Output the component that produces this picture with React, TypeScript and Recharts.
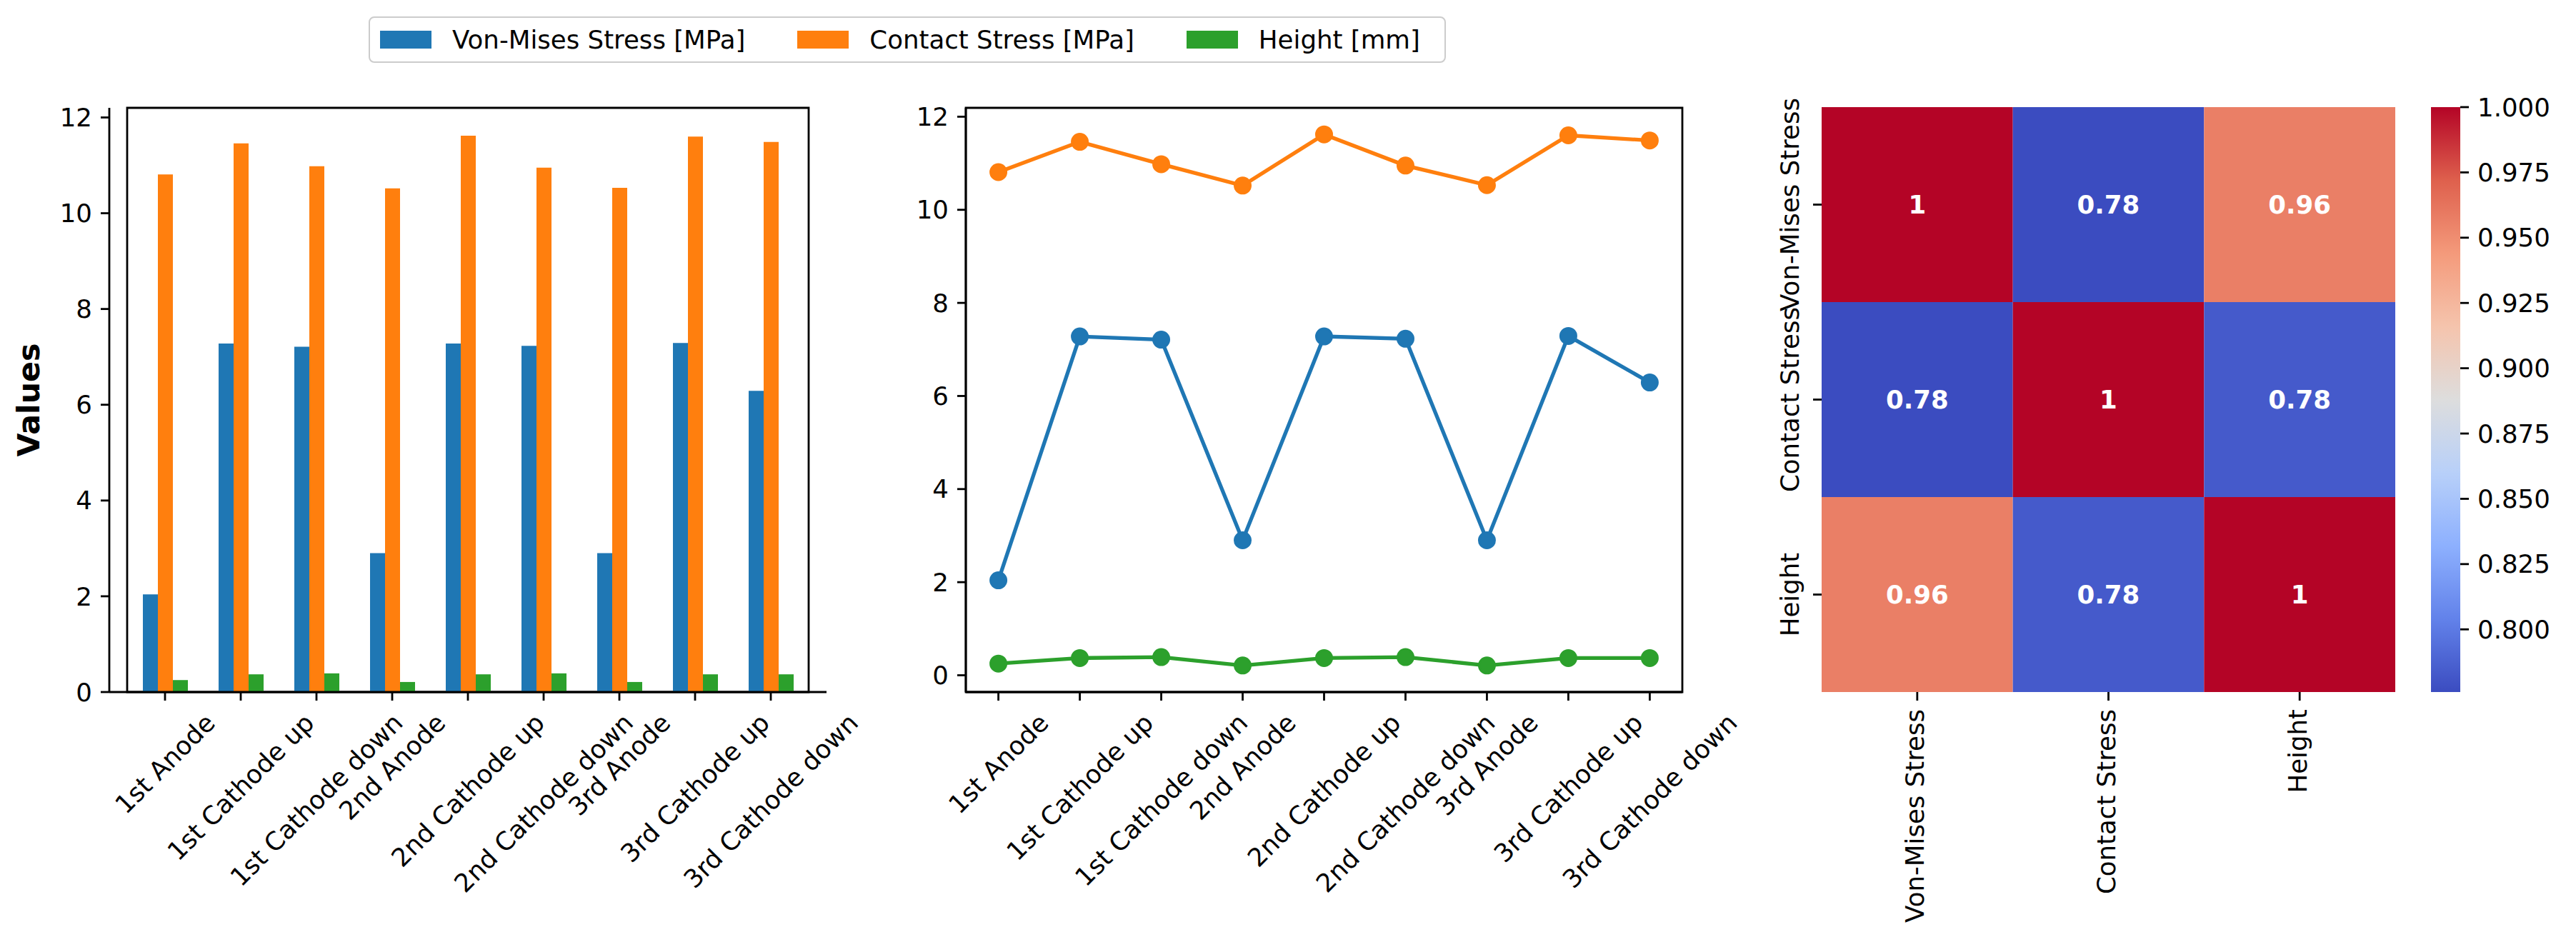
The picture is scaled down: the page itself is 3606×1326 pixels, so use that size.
import React from 'react';
import {
  BarChart,
  Bar,
  LineChart,
  Line,
  ScatterChart,
  Scatter,
  XAxis,
  YAxis,
  ReferenceArea,
} from 'recharts';

// data
const categories = [
  '1st Anode',
  '1st Cathode up',
  '1st Cathode down',
  '2nd Anode',
  '2nd Cathode up',
  '2nd Cathode down',
  '3rd Anode',
  '3rd Cathode up',
  '3rd Cathode down',
];
const vonMises = [2.04, 7.28, 7.21, 2.9, 7.28, 7.23, 2.9, 7.29, 6.29];
const contactStress = [10.81, 11.46, 10.98, 10.52, 11.62, 10.95, 10.53, 11.6, 11.49];
const heightMm = [0.25, 0.37, 0.39, 0.21, 0.37, 0.39, 0.21, 0.37, 0.37];

const seriesNames = ['Von-Mises Stress [MPa]', 'Contact Stress [MPa]', 'Height [mm]'];
const seriesColors = ['#1f77b4', '#ff7f0e', '#2ca02c'];

const corrLabels = ['Von-Mises Stress', 'Contact Stress', 'Height'];
const corrMatrix = [
  [1, 0.776, 0.957],
  [0.776, 1, 0.783],
  [0.957, 0.783, 1],
];

const valueTicks = [0, 2, 4, 6, 8, 10, 12];
const colorbarTicks = [0.8, 0.825, 0.85, 0.875, 0.9, 0.925, 0.95, 0.975, 1.0];

// matplotlib "coolwarm" colormap samples, low -> high
const coolwarm = [
  [59, 76, 192],
  [98, 130, 234],
  [141, 176, 254],
  [184, 208, 249],
  [221, 221, 221],
  [245, 196, 173],
  [244, 154, 123],
  [222, 96, 77],
  [180, 4, 38],
];

const FS = 35.6;
const FONT = 'DejaVu Sans';
const TICK = { fontSize: FS, fill: '#000', fontFamily: FONT };
const LINE = { stroke: '#000', strokeWidth: 2.8 };

const tableData = categories.map((name, i) => ({
  name,
  idx: i,
  von: vonMises[i],
  contact: contactStress[i],
  height: heightMm[i],
}));

const allValues = [...vonMises, ...contactStress, ...heightMm];
const dataMin = Math.min(...allValues);
const dataMax = Math.max(...allValues);
const barDomain = [0, dataMax * 1.05];
const lineDomain = [
  dataMin - (dataMax - dataMin) * 0.05,
  dataMax + (dataMax - dataMin) * 0.05,
];

const heatData = corrMatrix.flatMap((row, i) =>
  row.map((v, j) => ({ x: j + 0.5, y: i + 0.5, v }))
);
const vmin = Math.min(...corrMatrix.flat());
const vmax = Math.max(...corrMatrix.flat());

const HEAT_W = 803;
const HEAT_H = 819;

function coolwarmAt(t: number) {
  const s = Math.max(0, Math.min(1, t)) * (coolwarm.length - 1);
  const i = Math.min(Math.floor(s), coolwarm.length - 2);
  const f = s - i;
  const c = coolwarm[i].map((a, k) => Math.round(a + (coolwarm[i + 1][k] - a) * f));
  return `rgb(${c[0]},${c[1]},${c[2]})`;
}

function fmt2g(v: number) {
  return String(Number(v.toPrecision(2)));
}

let ctx: CanvasRenderingContext2D | null = null;
function textWidth(s: string) {
  if (!ctx) ctx = document.createElement('canvas').getContext('2d');
  if (!ctx) return s.length * FS * 0.6;
  ctx.font = `${FS}px "${FONT}"`;
  return ctx.measureText(s).width;
}

// rotated 45°, centred on the tick like matplotlib's rotation=45
function SlantTick(props: any) {
  const { x, y, payload, labels } = props;
  const label = labels ? labels[payload.value] : payload.value;
  const half = ((textWidth(label) + FS) * Math.SQRT1_2) / 2;
  const cy = y + half;
  return (
    <text
      x={x}
      y={cy}
      transform={`rotate(-45 ${x} ${cy})`}
      textAnchor="middle"
      dominantBaseline="central"
      fontSize={FS}
      fontFamily={FONT}
      fill="#000"
    >
      {label}
    </text>
  );
}

function HeatYTick(props: any) {
  const { x, y, payload } = props;
  const label = corrLabels[Math.floor(payload.value)];
  return (
    <text
      transform={`translate(${x - FS * 0.236} ${y}) rotate(-90)`}
      textAnchor="middle"
      fontSize={FS}
      fontFamily={FONT}
      fill="#000"
    >
      {label}
    </text>
  );
}

function HeatXTick(props: any) {
  const { x, y, payload } = props;
  const label = corrLabels[Math.floor(payload.value)];
  return (
    <text
      transform={`translate(${x + FS * 0.264} ${y}) rotate(-90)`}
      textAnchor="end"
      fontSize={FS}
      fontFamily={FONT}
      fill="#000"
    >
      {label}
    </text>
  );
}

function HeatCell(props: any) {
  const { cx, cy, payload } = props;
  const w = HEAT_W / 3;
  const h = HEAT_H / 3;
  return (
    <g>
      <rect
        x={cx - w / 2}
        y={cy - h / 2}
        width={w}
        height={h}
        fill={coolwarmAt((payload.v - vmin) / (vmax - vmin))}
      />
      <text
        x={cx}
        y={cy}
        textAnchor="middle"
        dominantBaseline="central"
        fontSize={FS}
        fontFamily={FONT}
        fontWeight="bold"
        fill="#fff"
      >
        {fmt2g(payload.v)}
      </text>
    </g>
  );
}

function valuesLabel(props: any) {
  const vb = props.viewBox || {};
  const cy = vb.y + vb.height / 2;
  return (
    <text
      x={40}
      y={cy}
      transform={`rotate(-90 40 ${cy})`}
      textAnchor="middle"
      dominantBaseline="central"
      fontSize={42.7}
      fontWeight="bold"
      fontFamily={FONT}
      fill="#000"
    >
      Values
    </text>
  );
}

function Legend() {
  return (
    <div
      style={{
        position: 'absolute',
        left: 516,
        top: 23,
        height: 61,
        padding: '0 34px 0 14px',
        border: '2.8px solid #cccccc',
        borderRadius: 8,
        background: '#fff',
        display: 'flex',
        alignItems: 'center',
        fontFamily: FONT,
        fontSize: FS,
        whiteSpace: 'nowrap',
      }}
    >
      {seriesNames.map((name, i) => (
        <div
          key={name}
          style={{ display: 'flex', alignItems: 'center', marginLeft: i ? 73 : 0 }}
        >
          <div style={{ width: 72, height: 25, background: seriesColors[i], marginRight: 29 }} />
          <span>{name}</span>
        </div>
      ))}
    </div>
  );
}

const place = (left: number): React.CSSProperties => ({ position: 'absolute', left, top: 0 });

export default function App() {
  return (
    <div
      style={{
        position: 'absolute',
        left: 0,
        top: 0,
        width: 3606,
        height: 1326,
        background: '#fff',
        overflow: 'hidden',
      }}
    >
      <div style={place(0)}>
        <BarChart
          width={1320}
          height={1326}
          data={tableData}
          margin={{ top: 151, right: 163, bottom: 0, left: 73 }}
          barGap={0}
        >
          <XAxis
            dataKey="name"
            height={357}
            padding={{ left: 25, right: 25 }}
            tickSize={12}
            tickMargin={12}
            tickLine={LINE}
            axisLine={LINE}
            interval={0}
            tick={(p: any) => <SlantTick {...p} />}
          />
          <YAxis
            width={80}
            domain={barDomain}
            ticks={valueTicks}
            allowDataOverflow
            tickSize={12}
            tickMargin={12}
            tickLine={LINE}
            axisLine={LINE}
            tick={TICK}
            label={{ content: valuesLabel }}
          />
          <Bar dataKey="von" fill={seriesColors[0]} barSize={21} isAnimationActive={false} />
          <Bar dataKey="contact" fill={seriesColors[1]} barSize={21} isAnimationActive={false} />
          <Bar dataKey="height" fill={seriesColors[2]} barSize={21} isAnimationActive={false} />
          <ReferenceArea
            y1={barDomain[0]}
            y2={barDomain[1]}
            fill="none"
            stroke="#000"
            strokeWidth={2.8}
            ifOverflow="visible"
          />
        </BarChart>
      </div>

      <div style={place(1200)}>
        <LineChart
          width={1320}
          height={1326}
          data={tableData}
          margin={{ top: 151, right: 165, bottom: 0, left: 72 }}
        >
          <XAxis
            dataKey="idx"
            type="number"
            domain={[-0.4, 8.4]}
            ticks={categories.map((_, i) => i)}
            allowDataOverflow
            height={357}
            tickSize={12}
            tickMargin={12}
            tickLine={LINE}
            axisLine={LINE}
            interval={0}
            tick={(p: any) => <SlantTick {...p} labels={categories} />}
          />
          <YAxis
            width={80}
            domain={lineDomain}
            ticks={valueTicks}
            allowDataOverflow
            tickSize={12}
            tickMargin={12}
            tickLine={LINE}
            axisLine={LINE}
            tick={TICK}
          />
          <ReferenceArea
            x1={-0.4}
            x2={8.4}
            y1={lineDomain[0]}
            y2={lineDomain[1]}
            fill="none"
            stroke="#000"
            strokeWidth={2.8}
            ifOverflow="visible"
          />
          {['von', 'contact', 'height'].map((k, i) => (
            <Line
              key={k}
              dataKey={k}
              stroke={seriesColors[i]}
              strokeWidth={5.3}
              dot={{ r: 11, fill: seriesColors[i], stroke: seriesColors[i], strokeWidth: 3 }}
              isAnimationActive={false}
            />
          ))}
        </LineChart>
      </div>

      <div style={place(2400)}>
        <ScatterChart
          width={1000}
          height={1326}
          margin={{ top: 150, right: 47, bottom: 0, left: 0 }}
        >
          <XAxis
            dataKey="x"
            type="number"
            domain={[0, 3]}
            ticks={[0.5, 1.5, 2.5]}
            allowDataOverflow
            height={357}
            tickSize={12}
            tickMargin={12}
            tickLine={LINE}
            axisLine={false}
            interval={0}
            tick={(p: any) => <HeatXTick {...p} />}
          />
          <YAxis
            dataKey="y"
            type="number"
            domain={[0, 3]}
            ticks={[0.5, 1.5, 2.5]}
            reversed
            allowDataOverflow
            width={150}
            tickSize={12}
            tickMargin={12}
            tickLine={LINE}
            axisLine={false}
            interval={0}
            tick={(p: any) => <HeatYTick {...p} />}
          />
          <Scatter data={heatData} shape={(p: any) => <HeatCell {...p} />} isAnimationActive={false} />
        </ScatterChart>
      </div>

      <div style={place(3400)}>
        <BarChart
          width={206}
          height={1326}
          data={[{ k: 'cb', v: vmax }]}
          margin={{ top: 150, right: 0, bottom: 357, left: 3 }}
          barCategoryGap={0}
        >
          <defs>
            <linearGradient id="coolwarm" x1="0" y1="1" x2="0" y2="0">
              {coolwarm.map((c, i) => (
                <stop key={i} offset={i / (coolwarm.length - 1)} stopColor={`rgb(${c[0]},${c[1]},${c[2]})`} />
              ))}
            </linearGradient>
          </defs>
          <XAxis dataKey="k" hide />
          <YAxis
            orientation="right"
            width={162}
            domain={[vmin, vmax]}
            ticks={colorbarTicks}
            allowDataOverflow
            tickFormatter={(v: number) => v.toFixed(3)}
            tickSize={12}
            tickMargin={12}
            tickLine={LINE}
            axisLine={false}
            tick={TICK}
          />
          <Bar dataKey="v" fill="url(#coolwarm)" isAnimationActive={false} />
        </BarChart>
      </div>

      <Legend />
    </div>
  );
}
